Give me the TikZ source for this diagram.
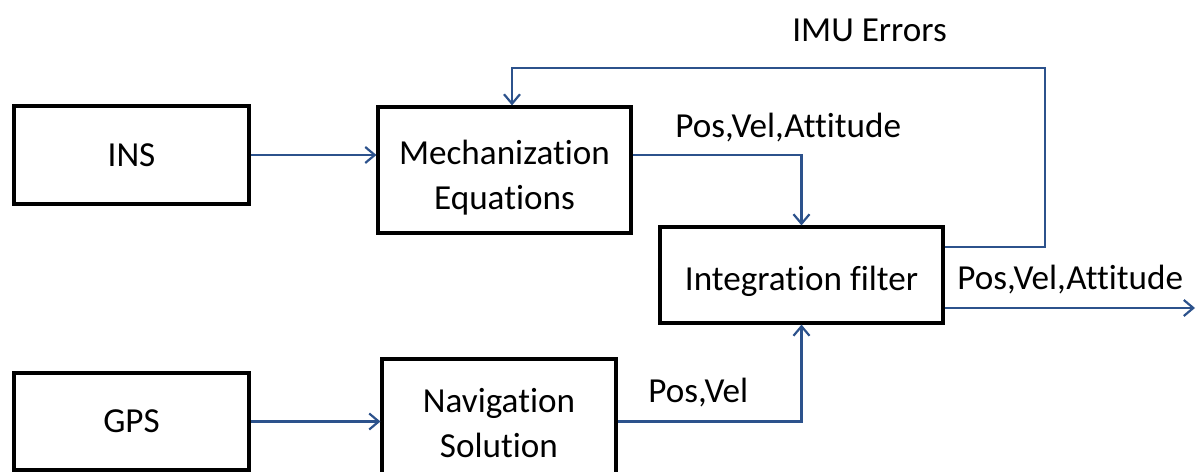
\documentclass[tikz,border=0pt]{standalone}
\usepackage{fontspec}
\setmainfont{Carlito}[Ligatures=NoCommon]
\usetikzlibrary{arrows.meta}
\definecolor{linkblue}{RGB}{44,82,140}
\begin{document}
\begin{tikzpicture}[x=0.02cm,y=-0.02cm,
  box/.style={draw=black,line width=1.8pt,align=center,inner sep=0pt,
    font=\fontsize{20}{25.6}\selectfont},
  conn/.style={draw=linkblue,line width=1.25pt,-{Straight Barb[length=0.19cm,width=0.32cm,line width=1.25pt]}},
  lbl/.style={inner sep=0pt,anchor=base west,font=\fontsize{20}{25.6}\selectfont}]
\useasboundingbox (0,0) rectangle (1197,472);
\clip (0,0) rectangle (1197,472);
\node[box,minimum width=4.7cm,minimum height=1.96cm] (ins) at (131.5,155) {INS};
\node[box,minimum width=5.06cm,minimum height=2.52cm] (mech) at (504.5,170) {\rule{0pt}{0.8cm}Mechanization\\Equations};
\node[box,minimum width=5.66cm,minimum height=1.92cm] (integ) at (801.5,275) {\rule{0pt}{0.76cm}Integration filter};
\node[box,minimum width=4.7cm,minimum height=1.94cm] (gps) at (131.5,421.5) {GPS};
\node[box,minimum width=4.68cm,minimum height=2.58cm] (nav) at (499,423.5) {Navigation\\Solution};
\coordinate (fbR) at (1045,68);
\coordinate (outE) at (1195,308);
\draw[conn] (ins.east) -- (ins.east -| mech.west);
\draw[conn] (ins.east -| mech.east) -| (integ.north);
\draw[conn] ([yshift=0.56cm]integ.east) -| (fbR) -| ([xshift=0.15cm]mech.north);
\draw[conn] (integ.east |- outE) -- (outE);
\draw[conn] (gps.east) -- (gps.east -| nav.west);
\draw[conn] (gps.east -| nav.east) -| (integ.south);
\node[lbl] (imu) at (792,42) {IMU Errors};
\node[lbl] (pva1) at (675,138) {Pos,Vel,Attitude};
\node[lbl] (pva2) at (957,290) {Pos,Vel,Attitude};
\node[lbl] (pv) at (648,403) {Pos,Vel};
\end{tikzpicture}
\end{document}
